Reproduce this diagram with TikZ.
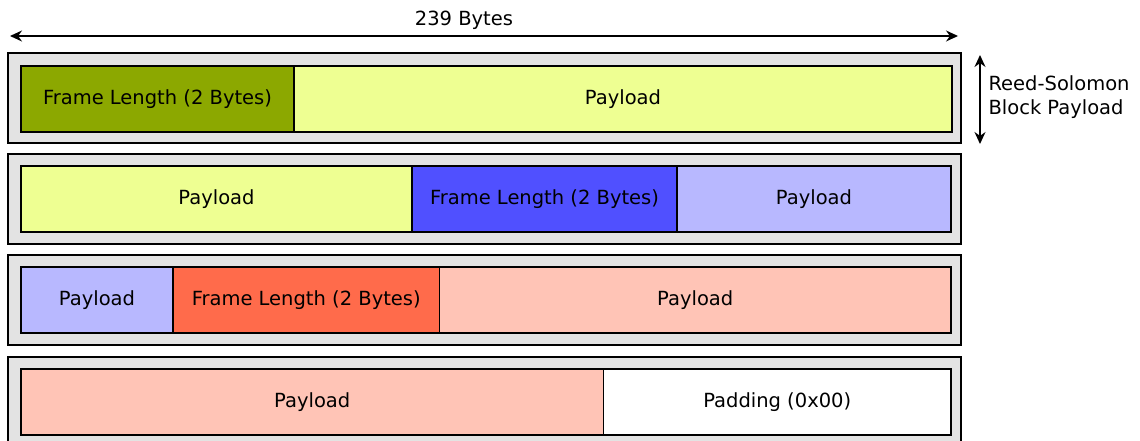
\documentclass[tikz,border=0pt]{standalone}
\usepackage{fontspec}
\setmainfont{DejaVu Sans}
\usetikzlibrary{arrows.meta,positioning}

\definecolor{rsgray}{HTML}{E3E3E3}
\definecolor{lenone}{HTML}{8CA800}
\definecolor{payone}{HTML}{EEFF92}
\definecolor{lentwo}{HTML}{5050FF}
\definecolor{paytwo}{HTML}{B8B8FF}
\definecolor{lenthree}{HTML}{FF6B4B}
\definecolor{paythree}{HTML}{FFC4B6}

\tikzset{
    blockbox/.style={draw, line width=1.6pt, fill=rsgray, anchor=north west,
        minimum width=953pt, minimum height=90pt, inner sep=0pt, outer sep=0pt},
    field/.style={draw, line width=1.4pt, minimum height=66pt,
        inner sep=0pt, outer sep=0pt, font=\fontsize{19.5}{23}\selectfont},
    dimarrow/.style={line width=1.4pt, {Stealth[length=12pt,width=11pt]}-{Stealth[length=12pt,width=11pt]}},
}

\begin{document}
\begin{tikzpicture}[x=1pt, y=-1pt]
    \useasboundingbox (0,0) rectangle (1140,441);
    \clip (0,0) rectangle (1140,441);

    % total length
    \coordinate (bytesL) at (10,36);
    \coordinate (bytesR) at (958,36);
    \draw[dimarrow] (bytesL) -- (bytesR);
    \node[font=\fontsize{19.5}{23}\selectfont] (bytes) at (464,20) {239 Bytes};

    % block 1
    \node[blockbox] (blk1) at (8,53) {};
    \node[field, fill=lenone, anchor=north west, minimum width=273pt] (len1) at (21,66) {Frame Length (2 Bytes)};
    \node[field, fill=payone, anchor=west, minimum width=658pt] (pay1) at (len1.east) {Payload};

    % block 2
    \node[blockbox] (blk2) at (8,154) {};
    \node[field, fill=payone, anchor=north west, minimum width=391pt] (pay2a) at (21,166) {Payload};
    \node[field, fill=lentwo, anchor=west, minimum width=265pt] (len2) at (pay2a.east) {Frame Length (2 Bytes)};
    \node[field, fill=paytwo, anchor=west, minimum width=274pt] (pay2b) at (len2.east) {Payload};

    % block 3
    \node[blockbox] (blk3) at (8,255) {};
    \node[field, fill=paytwo, anchor=north west, minimum width=152pt] (pay3a) at (21,267) {Payload};
    \node[field, fill=lenthree, anchor=west, minimum width=266.5pt] (len3) at (pay3a.east) {Frame Length (2 Bytes)};
    \node[field, fill=paythree, anchor=west, minimum width=511.5pt] (pay3b) at (len3.east) {Payload};

    % block 4
    \node[blockbox] (blk4) at (8,357) {};
    \node[field, fill=paythree, anchor=north west, minimum width=582.5pt] (pay4) at (21,369) {Payload};
    \node[field, fill=white, anchor=west, minimum width=347.5pt] (pad4) at (pay4.east) {Padding (0x00)};

    % block size
    \coordinate (rsT) at (980,55);
    \coordinate (rsB) at (980,144);
    \draw[dimarrow] (rsT) -- (rsB);
    \node[anchor=west, align=left, font=\fontsize{19.5}{24}\selectfont] (rs) at (985,97) {Reed-Solomon\\Block Payload};
\end{tikzpicture}
\end{document}
